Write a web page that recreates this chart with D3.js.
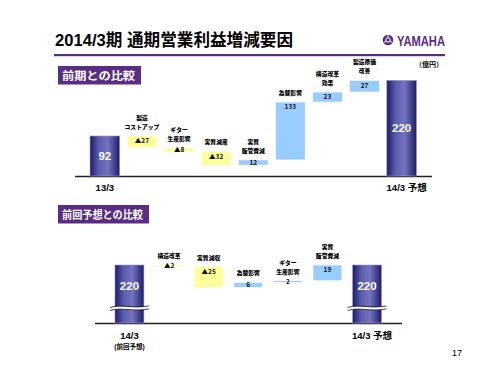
<!DOCTYPE html>
<html>
<head>
<meta charset="utf-8">
<script src="https://cdn.jsdelivr.net/npm/d3@7"></script>
<style>
  body { margin: 0; background: #fff; }
  svg { display: block; font-family: "Liberation Sans", "Noto Sans CJK JP", sans-serif; }
</style>
</head>
<body>
<svg id="chart" width="500" height="375"></svg>
<script>
// 前期との比較
const topCats = ["13/3", "製造\nコストアップ", "ギター\n生産影響", "実質減産", "実質\n販管費減", "為替影響", "構造改革\n効果", "製造原価\n改善", "14/3 予想"];
const topValues = [92, -27, -8, -32, 12, 133, 23, 27, 220];
const topSubs = ["", "", "", "", "", "", "", "", ""];

// 前回予想との比較
const botCats = ["14/3", "構造改革", "実質減収", "為替影響", "ギター\n生産影響", "実質\n販管費減", "14/3 予想"];
const botValues = [220, -2, -25, 6, 2, 19, 220];
const botSubs = ["(前回予想)", "", "", "", "", "", ""];

const purple = "#5a2d84";
const svg = d3.select("#chart");

// gradient for total bars
const grad = svg.append("defs").append("linearGradient").attr("id", "navy")
  .attr("x1", 0).attr("x2", 1).attr("y1", 0).attr("y2", 0);
[[0, "#1c1c6a"], [0.3, "#5c5cae"], [0.6, "#7474c0"], [1, "#1c1c6a"]].forEach(([o, c]) =>
  grad.append("stop").attr("offset", o).attr("stop-color", c));

// header
svg.append("text").attr("x", 55).attr("y", 46)
  .attr("font-size", 17).attr("font-weight", "bold")
  .attr("textLength", 238).attr("lengthAdjust", "spacingAndGlyphs")
  .text("2014/3期 通期営業利益増減要因");
svg.append("rect").attr("x", 54).attr("y", 54).attr("width", 391).attr("height", 2.2).attr("fill", purple);

// logo
const logo = svg.append("g").attr("transform", "translate(388,40)");
logo.append("circle").attr("r", 5.3).attr("fill", purple);
logo.append("circle").attr("r", 2.2).attr("fill", "none").attr("stroke", "#fff").attr("stroke-width", 1);
d3.range(3).forEach(i => {
  const a = i * 2 * Math.PI / 3 - Math.PI / 2;
  logo.append("line").attr("x1", Math.cos(a) * 2.2).attr("y1", Math.sin(a) * 2.2)
    .attr("x2", Math.cos(a) * 4.6).attr("y2", Math.sin(a) * 4.6)
    .attr("stroke", "#fff").attr("stroke-width", 1);
});
svg.append("text").attr("x", 397).attr("y", 45.5)
  .attr("font-size", 15).attr("font-weight", "bold").attr("fill", purple)
  .attr("textLength", 48).attr("lengthAdjust", "spacingAndGlyphs")
  .text("YAMAHA");

svg.append("text").attr("x", 443).attr("y", 66.5).attr("text-anchor", "end")
  .attr("font-size", 7).attr("font-weight", "bold").text("（億円）");

svg.append("text").attr("x", 457).attr("y", 355.5).attr("text-anchor", "middle")
  .attr("font-size", 9).text("17");

function sectionLabel(y, w, label) {
  svg.append("rect").attr("x", 58).attr("y", y).attr("width", w).attr("height", 18.5).attr("fill", purple);
  svg.append("text").attr("x", 62).attr("y", y + 13.5)
    .attr("font-size", 11).attr("font-weight", "bold").attr("fill", "#fff")
    .attr("textLength", w - 10).attr("lengthAdjust", "spacingAndGlyphs")
    .text(label);
}
sectionLabel(66, 83, "前期との比較");
sectionLabel(205, 91, "前回予想との比較");

function waterfall(cats, values, subs, opt) {
  const x = d3.scaleBand().domain(cats).range(opt.xr).paddingInner(opt.pad).paddingOuter(opt.pad);
  const y = d3.scaleLinear().domain(opt.yd).range(opt.yr);
  const g = svg.append("g");

  // running totals
  let run = 0;
  const rows = cats.map((c, i) => {
    const v = values[i];
    const total = i === 0 || i === cats.length - 1;
    let lo, hi;
    if (total) { lo = opt.yd[0]; hi = v; run = v; }
    else { const s = run; run += v; lo = Math.min(s, run); hi = Math.max(s, run); }
    return { c, v, total, lo, hi, sub: subs[i] };
  });

  g.append("line").attr("x1", opt.axis[0]).attr("x2", opt.axis[1])
    .attr("y1", y(opt.yd[0]) + 0.5).attr("y2", y(opt.yd[0]) + 0.5)
    .attr("stroke", "#222").attr("stroke-width", 1.3);

  const bar = g.selectAll("g.bar").data(rows).join("g").attr("class", "bar");

  bar.append("rect")
    .attr("x", d => x(d.c))
    .attr("y", d => y(d.hi))
    .attr("width", x.bandwidth())
    .attr("height", d => Math.max(1.2, y(d.lo) - y(d.hi)))
    .attr("fill", d => d.total ? "url(#navy)" : d.v < 0 ? "#ffff99" : "#99ccff")
    .attr("stroke", d => d.total ? "#9a9ad8" : "#fff")
    .attr("stroke-width", 0.6);

  const fmt = v => v < 0 ? "▲" + (-v) : String(v);

  // value labels
  bar.append("text")
    .attr("x", d => x(d.c) + x.bandwidth() / 2)
    .attr("y", d => {
      if (d.total) {
        const bottom = opt.brk ? y(opt.brk) : y(d.lo);
        return (y(d.hi) + bottom) / 2 + 4;
      }
      const h = y(d.lo) - y(d.hi);
      return y(d.hi) + Math.min(h / 2, 5) + 2.3;
    })
    .attr("text-anchor", "middle")
    .attr("font-family", d => d.total ? null : "'Noto Sans CJK JP', sans-serif")
    .attr("font-size", d => d.total ? 11.5 : 6.5)
    .attr("font-weight", "bold")
    .attr("fill", d => d.total ? "#fff" : "#111")
    .text(d => fmt(d.v));

  // category labels above floating bars
  bar.filter(d => !d.total).each(function (d) {
    const lines = d.c.split("\n");
    const t = d3.select(this).append("text")
      .attr("font-family", "'Noto Sans CJK JP', sans-serif")
      .attr("text-anchor", "middle").attr("font-size", 5.8).attr("font-weight", 900);
    lines.forEach((l, i) => {
      t.append("tspan").attr("x", x(d.c) + x.bandwidth() / 2)
        .attr("y", y(d.hi) - 7 - (lines.length - 1 - i) * 9)
        .text(l);
    });
  });

  // labels below totals
  bar.filter(d => d.total).each(function (d) {
    d3.select(this).append("text")
      .attr("x", x(d.c) + x.bandwidth() / 2 + (d.c.includes("予想") ? 5 : 0))
      .attr("y", y(opt.yd[0]) + opt.lab)
      .attr("text-anchor", "middle").attr("font-size", 9.5).attr("font-weight", "bold")
      .text(d.c);
    if (d.sub) {
      d3.select(this).append("text")
        .attr("x", x(d.c) + x.bandwidth() / 2)
        .attr("y", y(opt.yd[0]) + opt.lab + 10)
        .attr("text-anchor", "middle").attr("font-size", 6.5).attr("font-weight", "bold")
        .text(d.sub);
    }
  });

  // axis break marks
  if (opt.brk) {
    bar.filter(d => d.total).each(function (d) {
      const x0 = x(d.c) - 5, x1 = x(d.c) + x.bandwidth() + 5, yb = y(opt.brk), w = x1 - x0;
      const wave = off =>
        `M${x0},${yb + off + 1} C${x0 + w * 0.35},${yb + off - 2.5} ${x0 + w * 0.55},${yb + off + 2.5} ${x1},${yb + off - 0.5}`;
      const s = d3.select(this);
      s.append("path")
        .attr("d", `${wave(0)} L${x1},${yb + 2.5} C${x0 + w * 0.55},${yb + 5.5} ${x0 + w * 0.35},${yb + 0.5} ${x0},${yb + 4} Z`)
        .attr("fill", "#fff");
      s.append("path").attr("d", wave(0)).attr("fill", "none").attr("stroke", "#111").attr("stroke-width", 0.8);
      s.append("path").attr("d", wave(3)).attr("fill", "none").attr("stroke", "#111").attr("stroke-width", 0.8);
    });
  }
}

waterfall(topCats, topValues, topSubs, {
  xr: [82.6, 423.9], pad: 0.2, yd: [0, 220], yr: [176, 80.3], axis: [75, 432], lab: 15
});
waterfall(botCats, botValues, botSubs, {
  xr: [104.3, 392.2], pad: 0.27, yd: [150, 220], yr: [323, 265], axis: [95, 402], lab: 16, brk: 170
});
</script>
</body>
</html>
